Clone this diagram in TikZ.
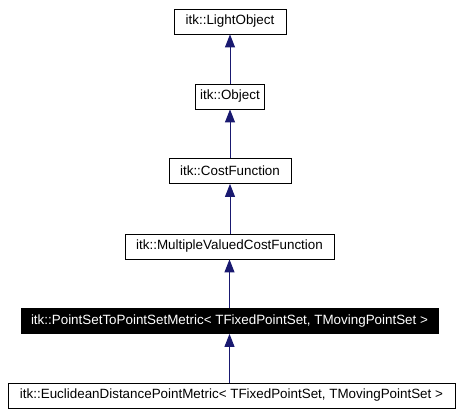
\documentclass[tikz,border=0pt]{standalone}
\usepackage{fontspec}
\setmainfont{Liberation Sans}
\usetikzlibrary{arrows.meta}
\definecolor{edgeblue}{RGB}{25,25,112}
\begin{document}
\begin{tikzpicture}[x=1pt,y=-1pt,
  cls/.style={draw=black,line width=0.8pt,inner sep=0pt,minimum height=25pt,font=\fontsize{13.4}{15}\selectfont,fill=white},
  cur/.style={cls,fill=black,text=white},
  inh/.style={draw=edgeblue,line width=1pt,-{Triangle[width=10pt,length=13pt]}}]
\useasboundingbox (0,0) rectangle (458,415);
\node[cls,minimum width=112pt] (light) at (230,21.5) {itk::LightObject};
\node[cls,minimum width=69pt] (obj) at (230,96.5) {itk::Object};
\node[cls,minimum width=122pt] (cost) at (230,171) {itk::CostFunction};
\node[cls,minimum width=209pt] (mv) at (229.5,246.5) {itk::MultipleValuedCostFunction};
\node[cur,minimum width=417pt] (ps) at (229.5,321) {itk::PointSetToPointSetMetric< TFixedPointSet, TMovingPointSet >};
\node[cls,minimum width=447pt] (eu) at (231.5,395.5) {itk::EuclideanDistancePointMetric< TFixedPointSet, TMovingPointSet >};
\draw[inh] (obj.north -| light.south) -- (light.south);
\draw[inh] (cost.north -| obj.south) -- (obj.south);
\draw[inh] (mv.north -| cost.south) -- (cost.south);
\draw[inh] (ps.north -| mv.south) -- (mv.south);
\draw[inh] (eu.north -| ps.south) -- (ps.south);
\end{tikzpicture}
\end{document}
